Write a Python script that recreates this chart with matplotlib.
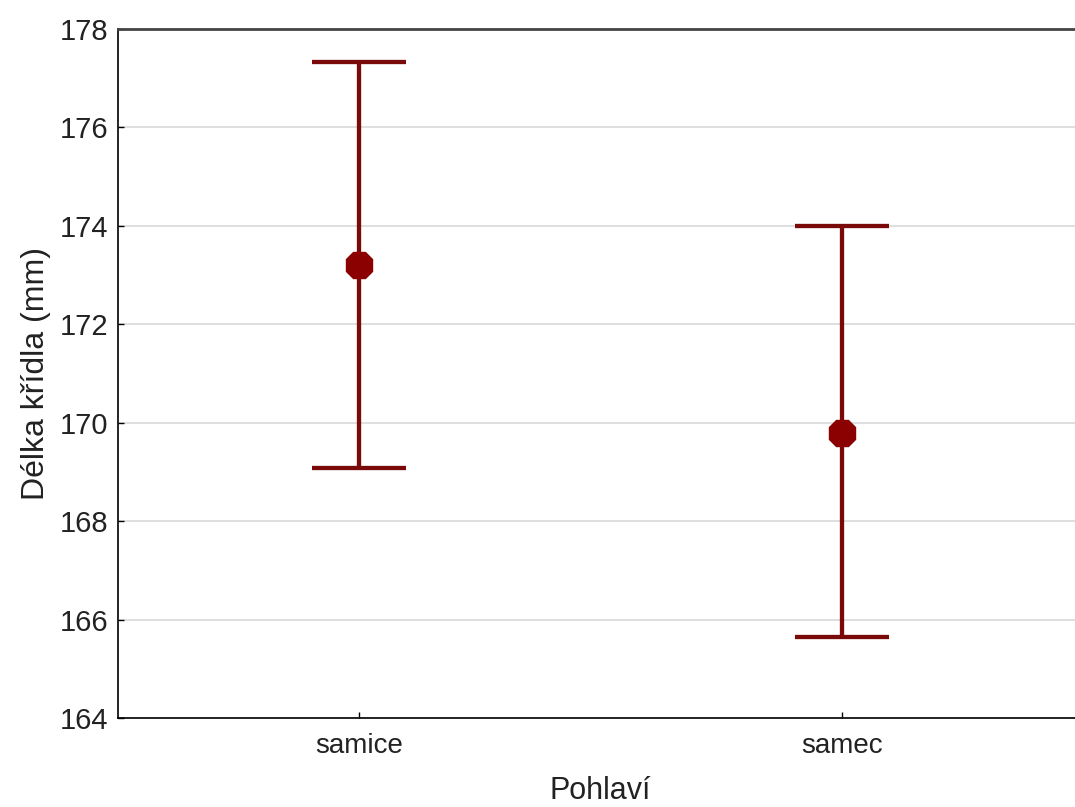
import matplotlib.pyplot as plt

# data
groups = ['samice', 'samec']
means = [173.2, 169.8]
upper = [177.33, 174.0]
lower = [169.07, 165.64]

plt.rcParams['font.family'] = ['Liberation Sans', 'DejaVu Sans']

fig = plt.figure(figsize=(10.75, 8.07), dpi=100)
ax = fig.add_axes([118 / 1075, 1 - 718 / 807, 965 / 1075, 689 / 807])

x = list(range(1, len(groups) + 1))
err_low = [m - l for m, l in zip(means, lower)]
err_high = [u - m for m, u in zip(means, upper)]
ax.errorbar(x, means, yerr=[err_low, err_high], fmt='8', color='#7a0a0a',
            ecolor='#7a0a0a', elinewidth=3.1, capsize=34, capthick=3.1,
            markersize=21, markerfacecolor='#8b0000', markeredgecolor='#8b0000',
            zorder=3)

ax.set_xlim(0.5, 2.5)
ax.set_ylim(164, 178)
ax.set_yticks(range(164, 179, 2))
ax.set_xticks(x)
ax.set_xticklabels(groups)
ax.yaxis.grid(True, color='#d9d9d9', linewidth=1.2)
ax.set_axisbelow(True)
ax.tick_params(direction='in', length=4, width=1, labelsize=21, colors='black')
ax.tick_params(axis='y', pad=7)
ax.tick_params(axis='x', pad=11, labelsize=20)
for lab in ax.get_xticklabels() + ax.get_yticklabels():
    lab.set_color('#222222')

ax.spines['right'].set_visible(False)
ax.spines['top'].set_color('#444444')
ax.spines['top'].set_linewidth(2)
ax.spines['left'].set_linewidth(1.2)
ax.spines['bottom'].set_linewidth(1.2)

ax.set_xlabel('Pohlaví', fontsize=22, labelpad=12, color='#222222')
ax.set_ylabel('Délka křídla (mm)', fontsize=23, labelpad=6, color='#222222')

fig.savefig('out.png', dpi=100)
